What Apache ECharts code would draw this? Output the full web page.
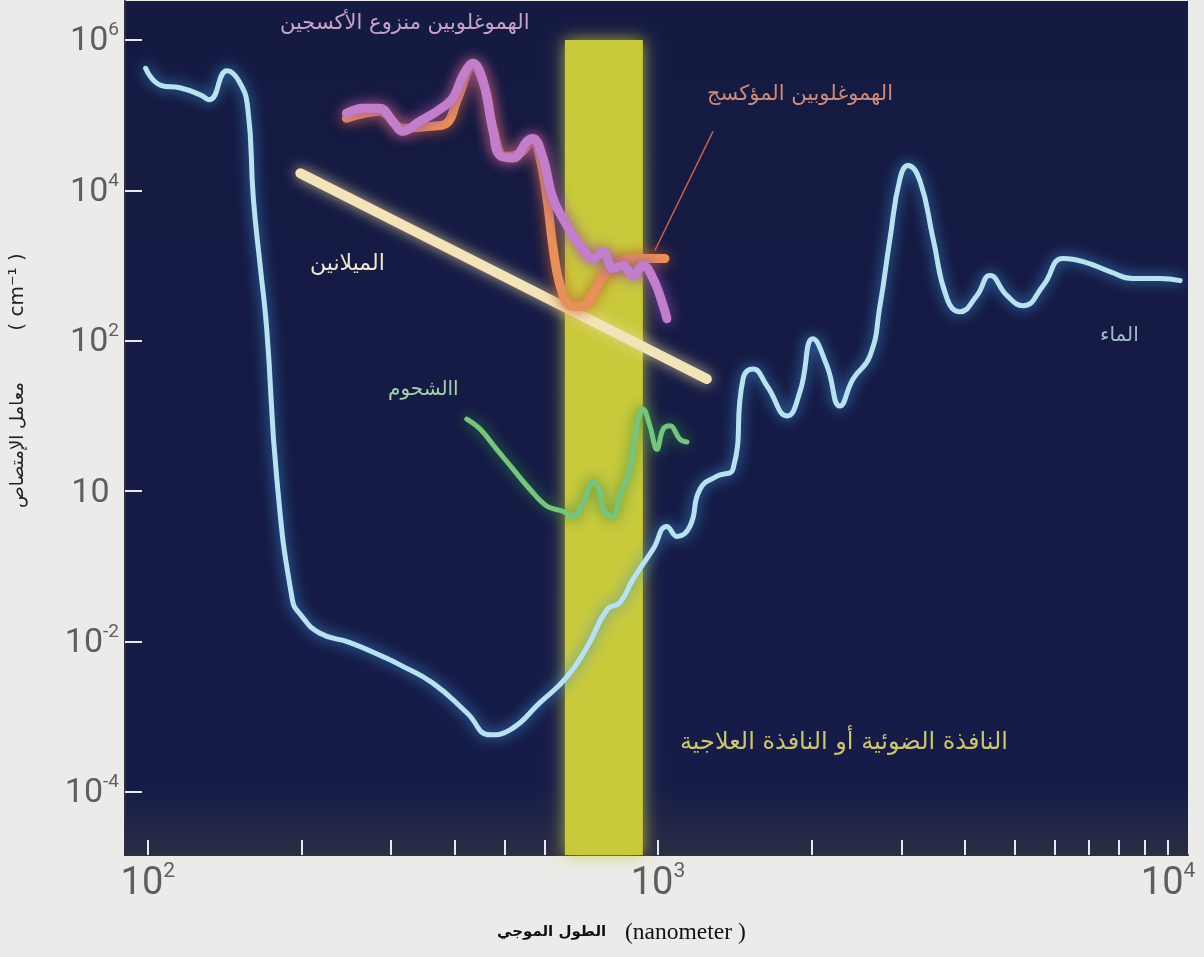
<!DOCTYPE html>
<html>
<head>
<meta charset="utf-8">
<script src="https://cdn.jsdelivr.net/npm/echarts@6/dist/echarts.min.js"></script>
<style>
html, body { margin: 0; padding: 0; background: #ebebe9; }
#chart { width: 1204px; height: 957px; }
</style>
</head>
<body>
<div id="chart"></div>
<script>
// wavelength in nm, absorption coefficient in cm-1
const waterX = [99, 106, 116, 127, 132, 143, 151, 157, 161, 166, 171, 179, 192, 199, 217, 249, 289, 312, 362, 422,
  469, 513, 587, 663, 727, 795, 842, 893, 978, 1041, 1090, 1155, 1209, 1305, 1403, 1468, 1536, 1636, 1791, 1898,
  2013, 2145, 2274, 2412, 2604, 2724, 2850, 2983, 3092, 3264, 3461, 3687, 3907, 4218, 4475, 4834, 5200, 5690, 6225, 6813,
  7690, 8530, 9630, 10560];
const waterY = [4.2e5, 2.5e5, 2.3e5, 1.85e5, 1.6e5, 3.9e5, 2.8e5, 1.24e5, 7.8e3, 1000, 145, 1.45, 0.036, 0.023, 0.013, 0.0097, 0.0063, 0.0049, 0.0028, 0.00113,
  5.75e-4, 6.7e-4, 1.54e-3, 3.4e-3, 8.6e-3, 0.0267, 0.033, 0.067, 0.169, 0.34, 0.25, 0.34, 1.06, 1.58, 1.96, 31, 42, 25, 10, 21,
  106, 46, 13.6, 31, 63, 293, 2290, 1.45e4, 2.15e4, 1.32e4, 2290, 363, 244, 398, 736, 398, 293, 541, 1240, 1130,
  832, 671, 671, 631];

const deoxyX = [245, 264, 285, 302, 316, 341, 369, 396, 415, 434, 454, 475, 490, 520, 554, 569, 595, 623, 663, 703,
  746, 780, 816, 854, 893, 935, 978, 1024, 1041];
const deoxyY = [1.06e5, 1.24e5, 1.24e5, 8.3e4, 6.1e4, 8.3e4, 1.13e5, 1.69e5, 3.4e5, 4.9e5, 2.84e5, 6.1e4, 2.9e4, 2.7e4, 4.5e4, 4.9e4, 2.7e4, 7.8e3, 3.4e3, 1.85e3,
  1.24e3, 1.54e3, 912, 1000, 736, 1000, 671, 293, 196];

const oxyX = [245, 285, 316, 357, 385, 405, 434, 458, 475, 501, 536, 569, 587, 606, 623, 643, 672, 703, 736, 769, 805, 842, 922, 1032];
const oxyY = [9.1e4, 1.13e5, 6.7e4, 7.1e4, 7.8e4, 1.69e5, 4.5e5, 2.3e5, 6.7e4, 2.84e4, 3.1e4, 4.6e4, 2.7e4, 7.8e3, 1.69e3, 541, 293, 284, 363, 612, 912, 1130, 1240, 1240];

const melaninX = [199, 1247];
const melaninY = [1.69e4, 31];

const fatX = [422, 448, 483, 520, 561, 606, 651, 681, 713, 746, 769, 780, 816, 842, 881, 909, 935, 964, 995, 1024, 1056, 1104, 1140];
const fatY = [9.1, 6.7, 3.6, 1.96, 1.06, 0.63, 0.54, 0.46, 0.71, 1.32, 1.06, 0.575, 0.46, 0.86, 1.96, 7.4, 12.4, 7.4, 3.6, 6.7, 7.4, 4.9, 4.5];

// optical / therapeutic window
const windowX = [657, 934];

// tick labels
const xTickValues = [100, 200, 300, 400, 500, 600, 700, 800, 900, 1000, 2000, 3000, 4000, 5000, 6000, 7000, 8000, 9000, 10000];
const xLabelValues = [100, 1000, 10000];
const xLabelExp = ['2', '3', '4'];
const yTickValues = [1e-4, 1e-2, 1, 1e2, 1e4, 1e6];
const yLabelBase = ['10', '10', '10', '10', '10', '10'];
const yLabelExp = ['-4', '-2', '', '2', '4', '6'];

const xMin = 90.2, xMax = 10940;
const yMin = 1.45e-5, yMax = 3.3e6;

function pairs(xs, ys) {
  return xs.map((x, i) => [x, ys[i]]);
}
function findIdx(list, v) {
  for (let i = 0; i < list.length; i++) {
    if (Math.abs(Math.log10(v) - Math.log10(list[i])) < 0.01) return i;
  }
  return -1;
}

var myChart = echarts.init(document.getElementById('chart'));

function glowLine(name, xs, ys, color, glow, width, z, smooth) {
  return {
    name: name,
    type: 'line',
    data: pairs(xs, ys),
    smooth: smooth,
    showSymbol: false,
    silent: true,
    z: z,
    lineStyle: {
      color: color,
      width: width,
      shadowBlur: 14,
      shadowColor: glow,
      cap: 'round',
      join: 'round'
    }
  };
}

const numFont = 'Roboto';
const labelGrey = '#5e5e5e';

const option = {
  backgroundColor: '#ebebe9',
  animation: false,
  grid: {
    left: 125,
    right: 16,
    top: 1,
    bottom: 102,
    show: true,
    borderWidth: 0,
    backgroundColor: {
      type: 'linear', x: 0, y: 0, x2: 0, y2: 1,
      colorStops: [
        { offset: 0, color: '#151a42' },
        { offset: 0.92, color: '#161c48' },
        { offset: 1, color: '#2a2d44' }
      ]
    }
  },
  xAxis: {
    type: 'log',
    min: xMin,
    max: xMax,
    axisLine: { show: true, lineStyle: { color: '#2e2f38', width: 2 } },
    splitLine: { show: false },
    minorTick: { show: false },
    axisTick: {
      show: true,
      inside: true,
      length: 15,
      customValues: xTickValues,
      lineStyle: { color: '#e8e8ee', width: 2 }
    },
    axisLabel: {
      customValues: xLabelValues,
      margin: 6,
      formatter: function (v) {
        const i = findIdx(xLabelValues, v);
        return '{b|10}{s|' + xLabelExp[i] + '}';
      },
      rich: {
        b: { fontSize: 38, fontFamily: numFont, color: labelGrey, lineHeight: 42, verticalAlign: 'bottom' },
        s: { fontSize: 21, fontFamily: numFont, color: labelGrey, lineHeight: 21, verticalAlign: 'top' }
      }
    }
  },
  yAxis: {
    type: 'log',
    min: yMin,
    max: yMax,
    axisLine: { show: true, lineStyle: { color: '#2e2f38', width: 2 } },
    splitLine: { show: false },
    minorTick: { show: false },
    axisTick: {
      show: true,
      inside: true,
      length: 17,
      customValues: yTickValues,
      lineStyle: { color: '#e8e8ee', width: 2 }
    },
    axisLabel: {
      customValues: yTickValues,
      margin: 6,
      formatter: function (v) {
        const i = findIdx(yTickValues, v);
        if (yLabelExp[i] === '') return '{b|' + yLabelBase[i] + '}{s|  }';
        return '{b|' + yLabelBase[i] + '}{s|' + yLabelExp[i] + '}';
      },
      rich: {
        b: { fontSize: 34, fontFamily: numFont, color: labelGrey, lineHeight: 38, verticalAlign: 'bottom' },
        s: { fontSize: 19, fontFamily: numFont, color: labelGrey, lineHeight: 19, verticalAlign: 'top' }
      }
    }
  },
  series: [
    {
      name: 'window',
      type: 'line',
      data: [],
      z: 1,
      silent: true,
      markArea: {
        silent: true,
        itemStyle: {
          color: '#c9c93c',
          shadowBlur: 16,
          shadowColor: 'rgba(200,200,60,0.85)'
        },
        data: [[{ xAxis: windowX[0], yAxis: 1e6 }, { xAxis: windowX[1], yAxis: yMin }]]
      }
    },
    glowLine('water', waterX, waterY, '#b8e2f2', '#3f95d6', 5, 3, 0.5),
    glowLine('melanin', melaninX, melaninY, '#f2e3b8', 'rgba(240,220,160,0.8)', 10, 3, false),
    glowLine('fat', fatX, fatY, '#76c47e', '#2f8a44', 5, 3, 0.4),
    Object.assign(glowLine('oxy', oxyX, oxyY, '#e8905a', '#c05a2a', 9, 4, 0.4), {
      markLine: {
        silent: true,
        symbol: ['none', 'none'],
        label: { show: false },
        lineStyle: { color: '#c8604a', width: 1.5, type: 'solid', shadowBlur: 0 },
        data: [[{ coord: [986, 1585] }, { coord: [1282, 6.1e4] }]]
      }
    }),
    glowLine('deoxy', deoxyX, deoxyY, '#c27ecb', '#8e4aa8', 9, 5, 0.4)
  ],
  graphic: [
    { type: 'text', left: 280, top: 13, z: 10, style: { text: 'الهموغلوبين منزوع الأكسجين', font: '21px "DejaVu Sans"', fill: '#c9a2c9' } },
    { type: 'text', left: 707, top: 84, z: 10, style: { text: 'الهموغلوبين المؤكسج', font: '21px "DejaVu Sans"', fill: '#cf8a78' } },
    { type: 'text', left: 310, top: 253, z: 10, style: { text: 'الميلانين', font: '22px "DejaVu Sans"', fill: '#f0e6cc' } },
    { type: 'text', left: 388, top: 380, z: 10, style: { text: 'االشحوم', font: '20px "DejaVu Sans"', fill: '#a4d2b0' } },
    { type: 'text', left: 1100, top: 326, z: 10, style: { text: 'الماء', font: '20px "DejaVu Sans"', fill: '#a3bccb' } },
    { type: 'text', left: 680, top: 731, z: 10, style: { text: 'النافذة الضوئية أو النافذة العلاجية', font: '24px "DejaVu Sans"', fill: '#cdc572' } },
    { type: 'text', x: 18, y: 445, rotation: Math.PI / 2, z: 10, style: { text: 'معامل الإمتصاص', font: '18px "DejaVu Sans"', fill: '#222', align: 'center', verticalAlign: 'middle' } },
    { type: 'text', x: 18, y: 292, rotation: Math.PI / 2, z: 10, style: { text: '( cm⁻¹ )', font: '20px "DejaVu Sans"', fill: '#222', align: 'center', verticalAlign: 'middle' } },
    { type: 'text', left: 497, top: 925, z: 10, style: { text: 'الطول الموجي', font: 'bold 15px "DejaVu Sans"', fill: '#111' } },
    { type: 'text', left: 625, top: 921, z: 10, style: { text: '(nanometer )', font: '23.5px "Liberation Serif"', fill: '#111' } }
  ]
};

myChart.setOption(option);
</script>
</body>
</html>
